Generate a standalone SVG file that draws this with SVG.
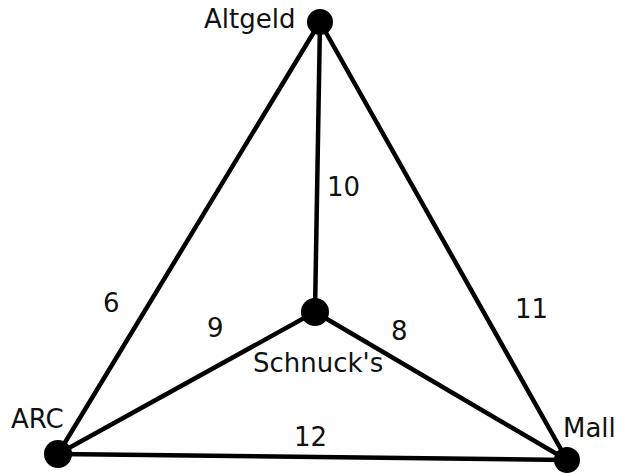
<svg xmlns="http://www.w3.org/2000/svg" width="618" height="473" viewBox="0 0 618 473">
<style>
.e{stroke:#000;stroke-width:4.5;fill:none;stroke-linecap:round}
.n{fill:#000}
text{font-family:"DejaVu Sans",Verdana,sans-serif;font-size:26px;fill:#111}
</style>
<rect width="618" height="473" fill="#fff"/>
<g id="edges">
<line class="e" x1="320" y1="22" x2="58" y2="454"/>
<line class="e" x1="320" y1="22" x2="567" y2="460"/>
<line class="e" x1="320" y1="22" x2="315" y2="312"/>
<line class="e" x1="315" y1="312" x2="58" y2="454"/>
<line class="e" x1="315" y1="312" x2="567" y2="460"/>
<line class="e" x1="58" y1="454" x2="567" y2="460"/>
<text x="327" y="196">10</text>
<text x="103" y="312">6</text>
<text x="207" y="337">9</text>
<text x="391" y="340">8</text>
<text x="515" y="318">11</text>
<text x="294" y="446">12</text>
</g>
<g id="altgeld"><circle class="n" cx="320" cy="22" r="13"/><text x="204" y="28">Altgeld</text></g>
<g id="arc"><circle class="n" cx="58" cy="454" r="14"/><text x="11" y="428">ARC</text></g>
<g id="mall"><circle class="n" cx="567" cy="460" r="13"/><text x="563" y="437">Mall</text></g>
<g id="schnucks"><circle class="n" cx="315" cy="312" r="14"/><text x="253" y="372">Schnuck's</text></g>
</svg>
